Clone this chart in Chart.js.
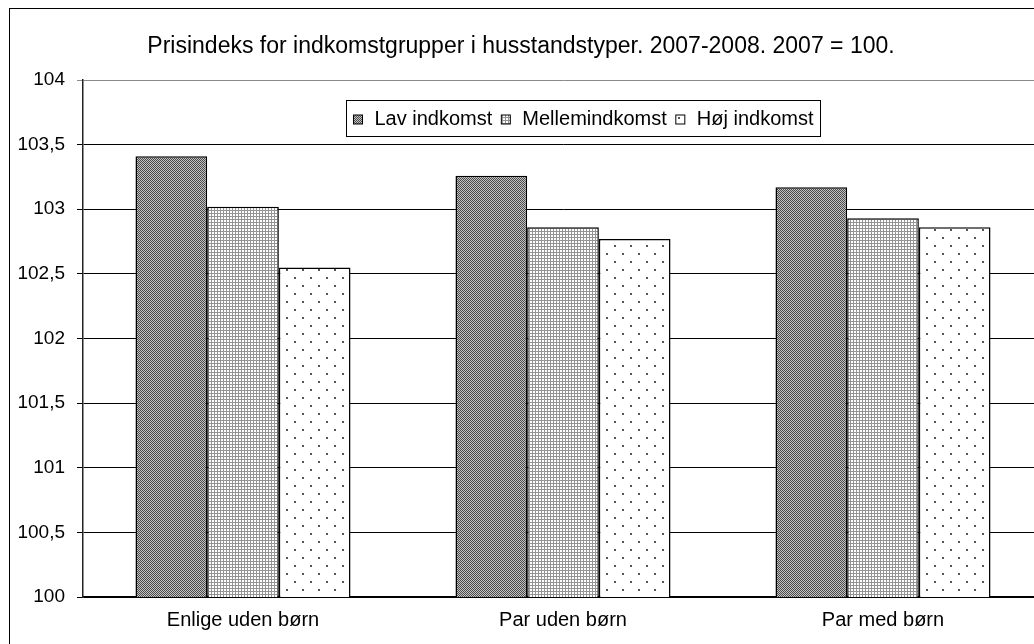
<!DOCTYPE html>
<html>
<head>
<meta charset="utf-8">
<script src="https://cdn.jsdelivr.net/npm/chart.js@4/dist/chart.umd.min.js"></script>
<style>
  html, body { margin: 0; padding: 0; background: #fff; overflow: hidden; }
  #frame {
    position: absolute; left: 9px; top: 8px;
    width: 1100px; height: 700px;
    border: 1px solid #000; box-sizing: border-box;
  }
  #chart { position: absolute; left: 0; top: 0; }
</style>
</head>
<body>
<div id="frame"><canvas id="chart" width="1040" height="660"></canvas></div>
<script>
const titleText = 'Prisindeks for indkomstgrupper i husstandstyper. 2007-2008. 2007 = 100.';
const categories = ['Enlige uden børn', 'Par uden børn', 'Par med børn'];
const seriesNames = ['Lav indkomst', 'Mellemindkomst', 'Høj indkomst'];
const lavIndkomst = [103.41, 103.26, 103.17];
const mellemIndkomst = [103.02, 102.86, 102.93];
const hojIndkomst = [102.55, 102.77, 102.86];

const FONT = '"Liberation Sans", Arial, sans-serif';

// small tiles that imitate the old excel fill patterns
function makePattern(size, draw) {
  const c = document.createElement('canvas');
  c.width = size;
  c.height = size;
  const g = c.getContext('2d');
  draw(g);
  return g.createPattern(c, 'repeat');
}

const darkChecker = makePattern(2, (g) => {
  g.fillStyle = '#4a4a4a';
  g.fillRect(0, 0, 2, 2);
  g.fillStyle = '#c4c4c4';
  g.fillRect(0, 0, 1, 1);
  g.fillRect(1, 1, 1, 1);
});

const lightGrid = makePattern(3, (g) => {
  g.fillStyle = '#949494';
  g.fillRect(0, 0, 3, 3);
  g.fillStyle = '#ffffff';
  g.fillRect(1, 1, 2, 2);
});

const sparseDots = makePattern(16, (g) => {
  g.fillStyle = '#ffffff';
  g.fillRect(0, 0, 16, 16);
  g.fillStyle = '#555';
  g.fillRect(4, 4, 2, 2);
  g.fillRect(12, 12, 2, 2);
});

const fills = [darkChecker, lightGrid, sparseDots];

const titlePlugin = {
  id: 'centerTitle',
  afterDraw(chart) {
    const { ctx } = chart;
    ctx.save();
    ctx.font = '23px ' + FONT;
    ctx.fillStyle = '#000';
    ctx.textAlign = 'center';
    ctx.textBaseline = 'middle';
    ctx.fillText(titleText, 511, 38);
    ctx.restore();
  }
};

const boxedLegend = {
  id: 'boxedLegend',
  afterDatasetsDraw(chart) {
    const { ctx, chartArea } = chart;
    const sq = 9, gapIn = 12, gapOut = 9, padX = 7;
    ctx.save();
    ctx.font = '20px ' + FONT;
    const items = chart.data.datasets.map((ds) => ({
      label: ds.label,
      fill: ds.backgroundColor,
      w: ctx.measureText(ds.label).width
    }));
    let total = padX * 2;
    items.forEach((it, i) => {
      total += sq + gapIn + it.w + (i < items.length - 1 ? gapOut : 0);
    });
    const h = 36;
    const cx = (chartArea.left + chartArea.right) / 2 + 20;
    const left = Math.round(cx - total / 2) + 0.5;
    const top = chartArea.top + 20.5;
    ctx.fillStyle = '#fff';
    ctx.fillRect(left, top, total, h);
    ctx.strokeStyle = '#000';
    ctx.lineWidth = 1;
    ctx.strokeRect(left, top, total, h);

    let x = left + padX;
    const midY = top + h / 2;
    ctx.textBaseline = 'middle';
    ctx.textAlign = 'left';
    items.forEach((it) => {
      ctx.fillStyle = it.fill;
      ctx.fillRect(x, midY - sq / 2 + 1, sq, sq);
      ctx.strokeStyle = '#000';
      ctx.strokeRect(x, midY - sq / 2 + 1, sq, sq);
      x += sq + gapIn;
      ctx.fillStyle = '#000';
      ctx.fillText(it.label, x, midY + 1);
      x += it.w + gapOut;
    });
    ctx.restore();
  }
};

const series = [lavIndkomst, mellemIndkomst, hojIndkomst];

new Chart(document.getElementById('chart'), {
  type: 'bar',
  data: {
    labels: categories,
    datasets: series.map((values, i) => ({
      label: seriesNames[i],
      data: values,
      backgroundColor: fills[i],
      borderColor: '#000',
      borderWidth: 1.5,
      borderSkipped: false,
      categoryPercentage: 0.672,
      barPercentage: 1
    }))
  },
  options: {
    responsive: false,
    animation: false,
    devicePixelRatio: 1,
    layout: { padding: { top: 71, right: 7, left: 0, bottom: 0 } },
    plugins: {
      legend: { display: false },
      title: { display: false },
      tooltip: { enabled: false }
    },
    scales: {
      x: {
        grid: { display: false, drawTicks: false },
        border: { display: true, color: '#000', width: 1.5 },
        ticks: {
          color: '#000',
          padding: 11,
          font: { family: FONT, size: 20 }
        },
        afterFit(scale) { scale.height = 72; }
      },
      y: {
        min: 100,
        max: 104,
        grid: {
          color: (c) => (c.tick && c.tick.value === 104 ? '#8a8a8a' : '#000'),
          lineWidth: 1,
          tickLength: 6
        },
        border: { display: true, color: '#222', width: 1.5 },
        ticks: {
          stepSize: 0.5,
          color: '#000',
          padding: 12,
          font: { family: FONT, size: 19 },
          callback: (v) => String(v).replace('.', ',')
        },
        afterFit(scale) { scale.width = 73; }
      }
    }
  },
  plugins: [titlePlugin, boxedLegend]
});
</script>
</body>
</html>
